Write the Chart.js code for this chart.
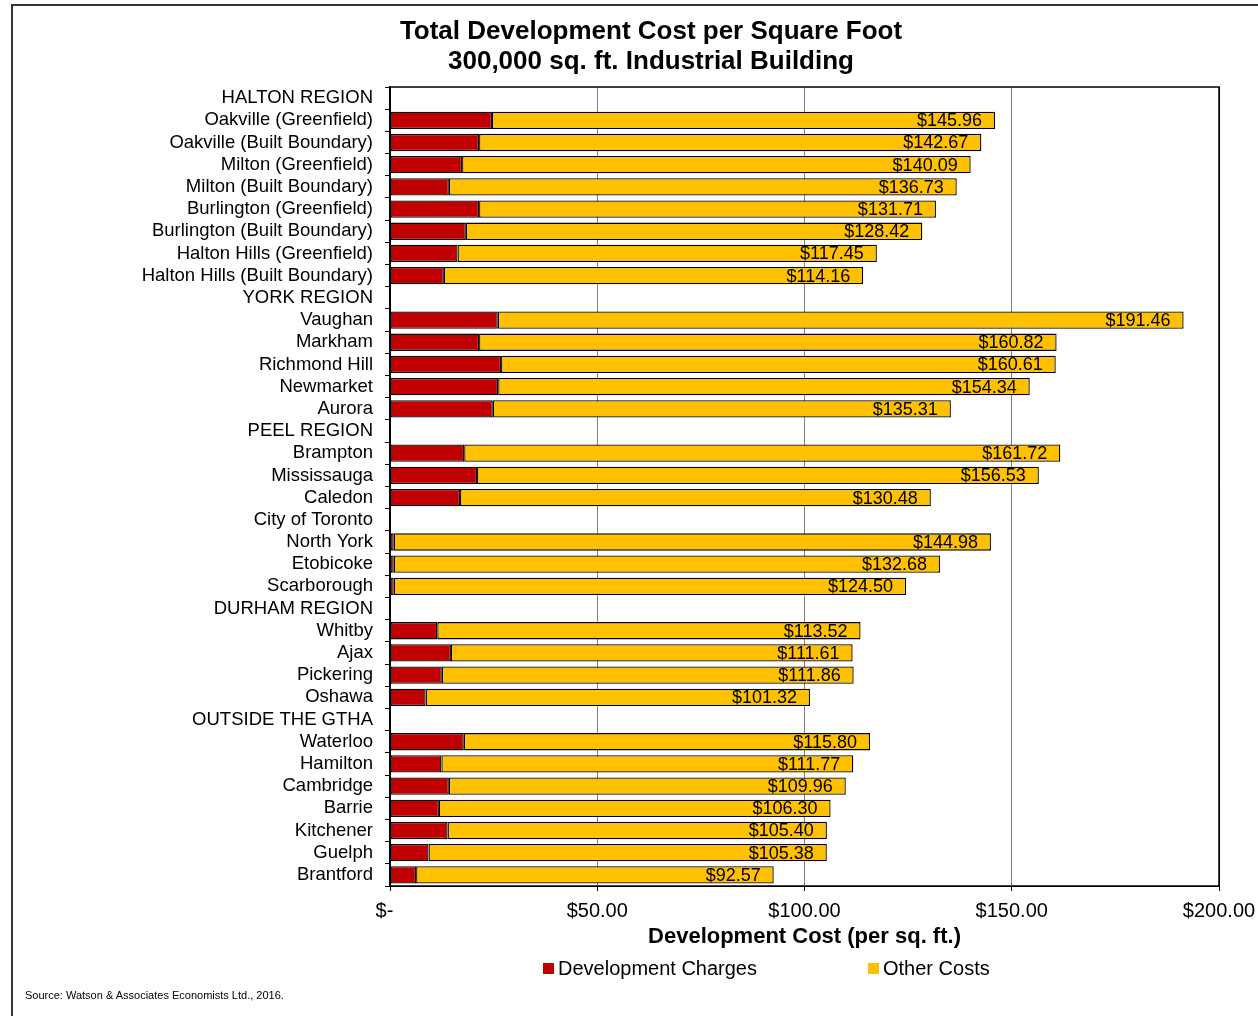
<!DOCTYPE html>
<html lang="en">
<head>
    <meta charset="UTF-8">
    <title>Total Development Cost per Square Foot</title>
    <script src="https://cdn.jsdelivr.net/npm/chart.js"></script>
    <style>
        body {
            margin: 0;
            font-family: "Liberation Sans", Arial, sans-serif;
            background: #fff;
        }

        .wrap {
            position: relative;
            width: 1258px;
            height: 1016px;
            overflow: hidden;
        }

        .frame {
            position: absolute;
            left: 11px;
            top: 4px;
            width: 1400px;
            height: 1200px;
            border-left: 2px solid #333;
            border-top: 2px solid #333;
        }

        canvas {
            position: absolute;
            left: 0;
            top: 0;
        }

        .legend {
            position: absolute;
            top: 956px;
            font-size: 20px;
            line-height: 24px;
            color: #000;
            white-space: nowrap;
        }

        .legend .box {
            display: inline-block;
            width: 11px;
            height: 11px;
            margin-right: 4px;
            vertical-align: 1px;
        }

        .source {
            position: absolute;
            left: 25px;
            top: 989px;
            font-size: 11px;
            color: #000;
        }
    </style>
</head>
<body>
    <div class="wrap">
        <div class="frame"></div>
        <canvas id="costChart" width="1258" height="1016"></canvas>
        <div class="legend" style="left:543px"><span class="box" style="background:#C00000"></span>Development Charges</div>
        <div class="legend" style="left:868px"><span class="box" style="background:#FFC000"></span>Other Costs</div>
        <div class="source">Source: Watson &amp; Associates Economists Ltd., 2016.</div>
    </div>
    <script>
        // region headers have no bars (null)
        const categories = [
            'HALTON REGION', 'Oakville (Greenfield)', 'Oakville (Built Boundary)', 'Milton (Greenfield)',
            'Milton (Built Boundary)', 'Burlington (Greenfield)', 'Burlington (Built Boundary)',
            'Halton Hills (Greenfield)', 'Halton Hills (Built Boundary)',
            'YORK REGION', 'Vaughan', 'Markham', 'Richmond Hill', 'Newmarket', 'Aurora',
            'PEEL REGION', 'Brampton', 'Mississauga', 'Caledon',
            'City of Toronto', 'North York', 'Etobicoke', 'Scarborough',
            'DURHAM REGION', 'Whitby', 'Ajax', 'Pickering', 'Oshawa',
            'OUTSIDE THE GTHA', 'Waterloo', 'Hamilton', 'Cambridge', 'Barrie', 'Kitchener', 'Guelph', 'Brantford'
        ];

        const devCharges = [
            null, 24.6, 21.5, 17.4, 14.2, 21.5, 18.3, 16.3, 13.0,
            null, 26.0, 21.5, 26.8, 26.1, 24.8,
            null, 17.9, 21.0, 16.9,
            null, 0.9, 0.9, 0.9,
            null, 11.4, 14.7, 12.5, 8.6,
            null, 17.8, 12.4, 14.2, 11.8, 13.9, 9.3, 6.3
        ];

        const otherCosts = [
            null, 121.36, 121.17, 122.69, 122.53, 110.21, 110.12, 101.15, 101.16,
            null, 165.46, 139.32, 133.81, 128.24, 110.51,
            null, 143.82, 135.53, 113.58,
            null, 144.08, 131.78, 123.60,
            null, 102.12, 96.91, 99.36, 92.72,
            null, 98.00, 99.37, 95.76, 94.50, 91.50, 96.08, 86.27
        ];

        const totals = [
            null, 145.96, 142.67, 140.09, 136.73, 131.71, 128.42, 117.45, 114.16,
            null, 191.46, 160.82, 160.61, 154.34, 135.31,
            null, 161.72, 156.53, 130.48,
            null, 144.98, 132.68, 124.50,
            null, 113.52, 111.61, 111.86, 101.32,
            null, 115.80, 111.77, 109.96, 106.30, 105.40, 105.38, 92.57
        ];

        const FONT = '"Liberation Sans", Arial, sans-serif';

        // total labels at the end of each bar + black frame round the plot
        const extras = {
            id: 'extras',
            afterDatasetsDraw(chart) {
                const ctx = chart.ctx;
                const meta = chart.getDatasetMeta(1);
                ctx.save();
                ctx.font = '18px ' + FONT;
                ctx.fillStyle = '#000';
                ctx.textAlign = 'right';
                ctx.textBaseline = 'middle';
                meta.data.forEach((bar, i) => {
                    if (totals[i] == null) return;
                    ctx.fillText('$' + totals[i].toFixed(2), bar.x - 13, bar.y + 1);
                });
                const a = chart.chartArea;
                ctx.strokeStyle = '#000';
                ctx.lineWidth = 1.5;
                ctx.strokeRect(a.left, a.top, a.right - a.left, a.bottom - a.top);
                ctx.restore();
            }
        };

        const ctx = document.getElementById('costChart').getContext('2d');
        new Chart(ctx, {
            type: 'bar',
            data: {
                labels: categories,
                datasets: [
                    {
                        label: 'Development Charges',
                        data: devCharges,
                        backgroundColor: '#C00000',
                        borderColor: '#000',
                        borderWidth: 1.3,
                        borderSkipped: false,
                        barPercentage: 0.78,
                        categoryPercentage: 1
                    },
                    {
                        label: 'Other Costs',
                        data: otherCosts,
                        backgroundColor: '#FFC000',
                        borderColor: '#000',
                        borderWidth: 1.3,
                        borderSkipped: false,
                        barPercentage: 0.78,
                        categoryPercentage: 1
                    }
                ]
            },
            options: {
                indexAxis: 'y',
                responsive: false,
                animation: false,
                layout: {
                    padding: { left: 83, right: 39, top: 0, bottom: 66 }
                },
                plugins: {
                    legend: { display: false },
                    tooltip: { enabled: false },
                    title: {
                        display: true,
                        text: ['Total Development Cost per Square Foot', '300,000 sq. ft. Industrial Building'],
                        color: '#000',
                        font: { family: FONT, size: 26, weight: 'bold', lineHeight: 1.154 },
                        padding: { top: 17, bottom: 10 }
                    }
                },
                scales: {
                    x: {
                        stacked: true,
                        min: 0,
                        max: 200,
                        afterFit(scale) {
                            scale.height = 64;
                            scale.paddingLeft = 0;
                            scale.paddingRight = 0;
                        },
                        ticks: {
                            stepSize: 50,
                            color: '#000',
                            padding: 8,
                            font: { family: FONT, size: 20 },
                            callback: v => v === 0 ? '$-  ' : '$' + v.toFixed(2)
                        },
                        grid: {
                            color: c => (c.tick && (c.tick.value === 0 || c.tick.value === 200)) ? '#000' : '#808080',
                            tickColor: '#000',
                            tickLength: 5,
                            lineWidth: 1
                        },
                        border: { display: true, color: '#000' },
                        title: {
                            display: true,
                            text: 'Development Cost (per sq. ft.)',
                            color: '#000',
                            font: { family: FONT, size: 22, weight: 'bold' },
                            padding: { top: 0, bottom: 0 }
                        }
                    },
                    y: {
                        stacked: true,
                        afterFit(scale) { scale.width = 307; },
                        ticks: {
                            autoSkip: false,
                            color: '#000',
                            padding: 12,
                            font: { family: FONT, size: 18.5 }
                        },
                        grid: {
                            offset: true,
                            drawOnChartArea: false,
                            color: '#000',
                            tickLength: 5
                        },
                        border: { display: true, color: '#000', width: 1.5 }
                    }
                }
            },
            plugins: [extras]
        });
    </script>
</body>
</html>
